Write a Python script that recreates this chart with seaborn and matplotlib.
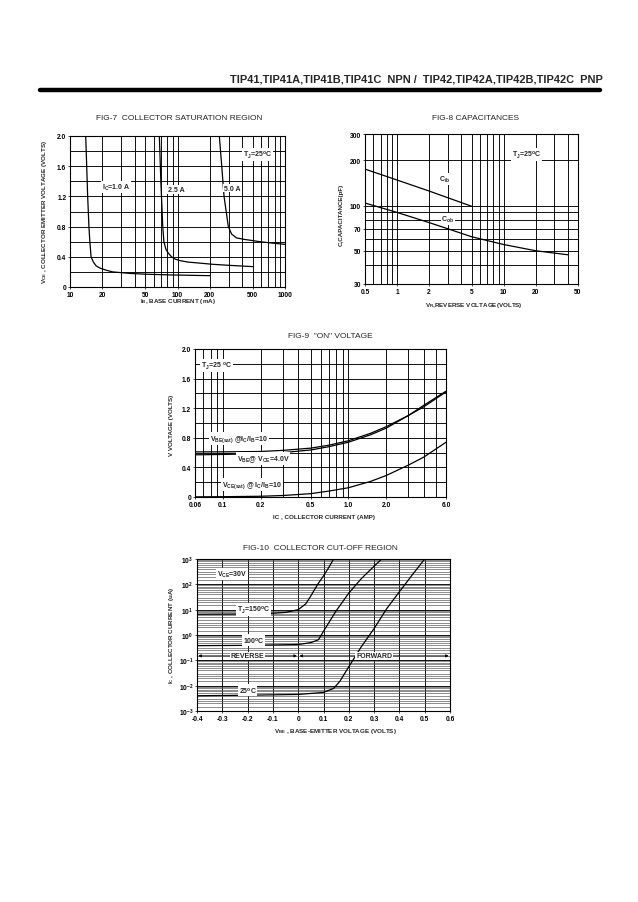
import numpy as np
import pandas as pd
import matplotlib
matplotlib.use("Agg")
import matplotlib.pyplot as plt
import seaborn as sns
from matplotlib.lines import Line2D
from matplotlib.ticker import FixedLocator, FixedFormatter, NullFormatter

# ---------------- DATA ----------------
# FIG-7 collector saturation region (IB mA, VCE V)
ib_1a = [14.0, 14.3, 14.6, 15.0, 15.3, 15.7, 16.5, 17.5, 19, 22, 25, 36, 50, 85, 200]
vce_1a = [2.0, 1.6, 1.2, 0.8, 0.6, 0.4, 0.33, 0.28, 0.25, 0.22, 0.2, 0.18, 0.17, 0.16, 0.15]
ib_25a = [67.8, 70, 72.9, 74.7, 78, 82, 88, 95, 105, 125, 151, 215, 320, 500]
vce_25a = [2.0, 1.4, 0.8, 0.6, 0.5, 0.45, 0.4, 0.37, 0.35, 0.33, 0.32, 0.3, 0.285, 0.27]
ib_5a = [245, 258, 271, 297, 319, 355, 420, 472, 585, 778, 1000]
vce_5a = [2.0, 1.6, 1.2, 0.8, 0.7, 0.65, 0.63, 0.62, 0.6, 0.58, 0.565]
fig7_xticks = [10, 20, 50, 100, 200, 500, 1000]
fig7_yticks = [0, 0.4, 0.8, 1.2, 1.6, 2.0]
fig7_yticklabels = ["0", "0.4", "0.8", "1.2", "1.6", "2.0"]

# FIG-8 capacitances (VR V, C pF)
vr_cib = [0.5, 1, 2, 5]
cib = [175, 148, 125, 99]
vr_cob = [0.5, 1, 2, 3, 5, 10, 20, 40]
cob = [104, 90, 77, 70, 62, 55, 50, 47]
fig8_xticks = [0.5, 1, 2, 5, 10, 20, 50]
fig8_xticklabels = ["0.5", "1", "2", "5", "10", "20", "50"]
fig8_yticks = [30, 50, 70, 100, 200, 300]

# FIG-9 "ON" voltage (IC A, V)
ic_on = [0.06, 0.1, 0.2, 0.3, 0.5, 0.7, 1.0, 1.5, 2.0, 3.0, 4.0, 6.0]
vbe_sat = [0.61, 0.61, 0.615, 0.63, 0.66, 0.70, 0.76, 0.86, 0.95, 1.10, 1.22, 1.42]
vbe_on = [0.57, 0.575, 0.585, 0.60, 0.635, 0.68, 0.74, 0.84, 0.93, 1.10, 1.24, 1.43]
vce_sat = [0.002, 0.004, 0.01, 0.02, 0.045, 0.08, 0.125, 0.21, 0.29, 0.43, 0.54, 0.74]
fig9_xticks = [0.06, 0.1, 0.2, 0.5, 1.0, 2.0, 6.0]
fig9_xticklabels = ["0.06", "0.1", "0.2", "0.5", "1.0", "2.0", "6.0"]
fig9_yticks = [0, 0.4, 0.8, 1.2, 1.6, 2.0]
fig9_yticklabels = ["0", "0.4", "0.8", "1.2", "1.6", "2.0"]

# FIG-10 collector cut-off region (VBE V, IC uA)
vbe_150 = [-0.4, -0.3, -0.2, -0.1, -0.05, 0.0, 0.03, 0.05, 0.077, 0.1, 0.12, 0.14]
ic_150 = [6.6, 6.7, 6.8, 7.2, 7.8, 10, 17, 35, 100, 215, 450, 1000]
vbe_100 = [-0.4, -0.2, 0.0, 0.05, 0.08, 0.1, 0.15, 0.2, 0.25, 0.3, 0.33]
ic_100 = [0.38, 0.39, 0.42, 0.5, 0.65, 1.4, 9, 45, 170, 520, 1000]
vbe_25 = [-0.4, -0.2, 0.0, 0.1, 0.14, 0.165, 0.2, 0.25, 0.3, 0.35, 0.4, 0.45, 0.5]
ic_25 = [0.004, 0.0042, 0.0045, 0.0054, 0.0078, 0.015, 0.056, 0.35, 1.8, 11, 51, 230, 1000]
fig10_xticks = [-0.4, -0.3, -0.2, -0.1, 0, 0.1, 0.2, 0.3, 0.4, 0.5, 0.6]
fig10_xticklabels = ["-0.4", "-0.3", "-0.2", "-0.1", "0", "0.1", "0.2", "0.3", "0.4", "0.5", "0.6"]
fig10_yticks = [1e-3, 1e-2, 1e-1, 1e0, 1e1, 1e2, 1e3]
fig10_yticklabels = ["10$^{-3}$", "10$^{-2}$", "10$^{-1}$", "10$^{0}$", "10$^{1}$", "10$^{2}$", "10$^{3}$"]

header = "TIP41,TIP41A,TIP41B,TIP41C  NPN /  TIP42,TIP42A,TIP42B,TIP42C  PNP"

# ---------------- STYLE ----------------
sns.set_theme(style="white")
plt.rcParams["font.family"] = ["Liberation Sans", "DejaVu Sans"]
plt.rcParams["font.weight"] = "bold"
plt.rcParams["mathtext.fontset"] = "custom"
plt.rcParams["mathtext.rm"] = "Liberation Sans:bold"
plt.rcParams["mathtext.bf"] = "Liberation Sans:bold"
plt.rcParams["mathtext.it"] = "Liberation Sans:bold"
plt.rcParams["mathtext.default"] = "bf"

W, H = 638, 903
fig = plt.figure(figsize=(W / 100, H / 100), dpi=100)
fig.patch.set_facecolor("white")


def px_axes(l, t, r, b):
    return fig.add_axes([l / W, 1 - b / H, (r - l) / W, (b - t) / H])


def ftext(x, y, s, **kw):
    fig.text(x / W, 1 - y / H, s, **kw)


TICK_FS = 4.8
LAB_FS = 4.5
ANN_FS = 5.0
TITLE_FS = 6.0
LW = 0.9
BOX = dict(facecolor="white", edgecolor="none", pad=0.6)


def style(ax, xt, xtl, yt, ytl, xminor, yminor, grid_lw=0.65):
    ax.xaxis.set_major_locator(FixedLocator(xt))
    ax.xaxis.set_major_formatter(FixedFormatter(xtl))
    ax.yaxis.set_major_locator(FixedLocator(yt))
    ax.yaxis.set_major_formatter(FixedFormatter(ytl))
    ax.xaxis.set_minor_locator(FixedLocator(xminor))
    ax.yaxis.set_minor_locator(FixedLocator(yminor))
    ax.xaxis.set_minor_formatter(NullFormatter())
    ax.yaxis.set_minor_formatter(NullFormatter())
    ax.tick_params(axis="both", which="major", labelsize=TICK_FS, length=1.5,
                   width=0.5, pad=1.2, colors="black", left=True, bottom=True)
    ax.tick_params(axis="both", which="minor", length=0)
    for s in ax.spines.values():
        s.set_color("black")
        s.set_linewidth(0.8)
    ax.grid(True, which="both", color="black", lw=grid_lw)
    ax.set_axisbelow(True)
    ax.set_xlabel("")
    ax.set_ylabel("")


def curve(ax, x, y):
    sns.lineplot(x=x, y=y, ax=ax, color="black", lw=LW, sort=False,
                 estimator=None, legend=False)


# ---------------- HEADER ----------------
ftext(603, 80, header, ha="right", va="center", fontsize=7.9, fontweight="bold")
fig.add_artist(Line2D([40 / W, 600 / W], [1 - 91 / H, 1 - 91 / H], color="black", lw=3.2))

# ---------------- FIG-7 ----------------
ax7 = px_axes(70, 137, 285, 288)
ax7.set_xscale("log")
curve(ax7, ib_1a, vce_1a)
curve(ax7, ib_25a, vce_25a)
curve(ax7, ib_5a, vce_5a)
ax7.set_xlim(10, 1000)
ax7.set_ylim(0, 2.0)
style(ax7, fig7_xticks, [str(v) for v in fig7_xticks], fig7_yticks, fig7_yticklabels,
      [30, 40, 60, 70, 80, 90, 300, 400, 600, 700, 800, 900],
      [0.2, 0.6, 1.0, 1.4, 1.8])
ax7.text(27, 1.32, "I$_C$=1.0 A", fontsize=ANN_FS, ha="center", va="center", bbox=BOX)
ax7.text(97, 1.29, "2.5 A", fontsize=ANN_FS, ha="center", va="center", bbox=BOX)
ax7.text(324, 1.31, "5.0 A", fontsize=ANN_FS, ha="center", va="center", bbox=BOX)
ax7.text(560, 1.76, "T$_J$=25$^o$C", fontsize=ANN_FS, ha="center", va="center", bbox=BOX)
ftext(179.5, 118, "FIG-7  COLLECTOR SATURATION REGION", ha="center", va="center",
      fontsize=TITLE_FS, fontweight="normal")
ftext(178, 302, "I$_B$, BASE CURRENT (mA)", ha="center", va="center", fontsize=LAB_FS)
ftext(45, 212, "V$_{CE}$ , COLLECTOR EMITTER VOLTAGE (VOLTS)", ha="center", va="center",
      fontsize=LAB_FS, rotation=90)

# ---------------- FIG-8 ----------------
ax8 = px_axes(365, 135, 578, 285)
ax8.set_xscale("log")
ax8.set_yscale("log")
curve(ax8, vr_cib, cib)
curve(ax8, vr_cob, cob)
ax8.set_xlim(0.5, 50)
ax8.set_ylim(30, 300)
style(ax8, fig8_xticks, fig8_xticklabels, fig8_yticks, [str(v) for v in fig8_yticks],
      [0.6, 0.7, 0.8, 0.9, 3, 4, 6, 7, 8, 9, 30, 40],
      [40, 60, 80, 90])
ax8.text(16.5, 220, "T$_J$=25$^o$C", fontsize=ANN_FS, ha="center", va="center", bbox=BOX)
ax8.text(2.8, 150, "C$_{ib}$", fontsize=ANN_FS, ha="center", va="center", bbox=BOX)
ax8.text(3.0, 81, "C$_{ob}$", fontsize=ANN_FS, ha="center", va="center", bbox=BOX)
ftext(475, 118, "FIG-8 CAPACITANCES", ha="center", va="center",
      fontsize=TITLE_FS, fontweight="normal")
ftext(474, 305, "V$_R$,REVERSE VOLTAGE(VOLTS)", ha="center", va="center", fontsize=LAB_FS)
ftext(341, 215, "C,CAPACITANCE(pF)", ha="center", va="center", fontsize=LAB_FS, rotation=90)

# ---------------- FIG-9 ----------------
ax9 = px_axes(195, 350, 446, 498)
ax9.set_xscale("log")
curve(ax9, ic_on, vbe_sat)
curve(ax9, ic_on, vbe_on)
curve(ax9, ic_on, vce_sat)
ax9.set_xlim(0.06, 6.0)
ax9.set_ylim(0, 2.0)
style(ax9, fig9_xticks, fig9_xticklabels, fig9_yticks, fig9_yticklabels,
      [0.07, 0.08, 0.09, 0.3, 0.4, 0.6, 0.7, 0.8, 0.9, 3, 4, 5],
      [0.2, 0.6, 1.0, 1.4, 1.8])
ax9.text(0.089, 1.78, "T$_J$=25 $^o$C", fontsize=ANN_FS, ha="center", va="center", bbox=BOX)
ax9.text(0.135, 0.79, "V$_{BE(sat)}$ @I$_C$/I$_B$=10", fontsize=ANN_FS, ha="center", va="center", bbox=BOX)
ax9.text(0.21, 0.52, "V$_{BE}$@ V$_{CE}$=4.0V", fontsize=ANN_FS, ha="center", va="center", bbox=BOX)
ax9.text(0.17, 0.17, "V$_{CE(sat)}$ @ I$_C$/I$_B$=10", fontsize=ANN_FS, ha="center", va="center", bbox=BOX)
ftext(330, 337, "FIG-9  \"ON\" VOLTAGE", ha="center", va="center",
      fontsize=TITLE_FS, fontweight="normal")
ftext(324, 518, "IC , COLLECTOR CURRENT (AMP)", ha="center", va="center", fontsize=LAB_FS)
ftext(171, 425, "V VOLTAGE (VOLTS)", ha="center", va="center", fontsize=LAB_FS, rotation=90)

# ---------------- FIG-10 ----------------
ax10 = px_axes(197, 560, 450, 712)
ax10.set_yscale("log")
curve(ax10, vbe_150, ic_150)
curve(ax10, vbe_100, ic_100)
curve(ax10, vbe_25, ic_25)
ax10.set_xlim(-0.4, 0.6)
ax10.set_ylim(1e-3, 1e3)
minor10 = [m * 10.0 ** e for e in range(-3, 3) for m in (1.5, 2, 2.5, 3, 4, 5, 6, 7, 8, 9)]
style(ax10, fig10_xticks, fig10_xticklabels, fig10_yticks, fig10_yticklabels,
      [], minor10)
ax10.grid(True, which="minor", axis="y", color="0.3", lw=0.45)
ax10.text(-0.263, 257, "V$_{CE}$=30V", fontsize=ANN_FS, ha="center", va="center", bbox=BOX)
ax10.text(-0.176, 10, "T$_J$=150$^o$C", fontsize=ANN_FS, ha="center", va="center", bbox=BOX)
ax10.text(-0.176, 0.63, "100$^o$C", fontsize=ANN_FS, ha="center", va="center", bbox=BOX)
ax10.text(-0.2, 0.0067, "25$^o$C", fontsize=ANN_FS, ha="center", va="center", bbox=BOX)
arrow = dict(arrowstyle="<|-|>", color="black", lw=0.6, mutation_scale=4, shrinkA=0, shrinkB=0)
ax10.annotate("", xy=(-0.395, 0.15), xytext=(-0.005, 0.15), arrowprops=arrow)
ax10.annotate("", xy=(0.005, 0.15), xytext=(0.595, 0.15), arrowprops=arrow)
ax10.text(-0.2, 0.15, "REVERSE", fontsize=ANN_FS, ha="center", va="center", bbox=BOX, zorder=5)
ax10.text(0.30, 0.15, "FORWARD", fontsize=ANN_FS, ha="center", va="center", bbox=BOX, zorder=5)
ftext(320.5, 548, "FIG-10  COLLECTOR CUT-OFF REGION", ha="center", va="center",
      fontsize=TITLE_FS, fontweight="normal")
ftext(335, 732, "V$_{BE}$ , BASE-EMITTER VOLTAGE (VOLTS)", ha="center", va="center", fontsize=LAB_FS)
ftext(171, 635, "I$_C$ , COLLECTOR CURRENT (uA)", ha="center", va="center", fontsize=LAB_FS, rotation=90)

fig.savefig("out.png", dpi=100, facecolor="white")
